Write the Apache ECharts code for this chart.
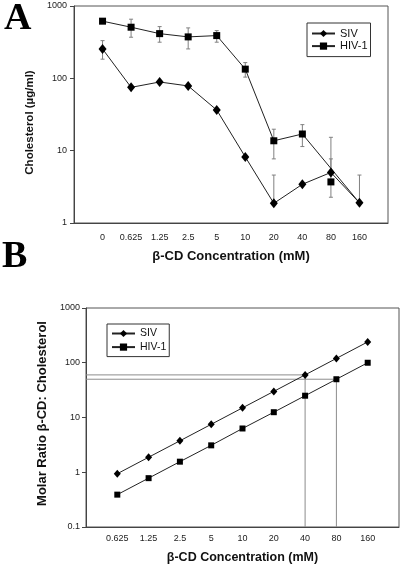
<!DOCTYPE html>
<html>
<head>
<meta charset="utf-8">
<script src="https://cdn.jsdelivr.net/npm/echarts@6/dist/echarts.min.js"></script>
<style>
  html, body { margin: 0; padding: 0; background: #fff; }
  #chart { width: 402px; height: 565px; }
</style>
</head>
<body>
<div id="chart"></div>
<script>
// ---------- Panel A data ----------
const catsA = ['0', '0.625', '1.25', '2.5', '5', '10', '20', '40', '80', '160'];
const sivA = [255, 75, 89, 78.5, 36.5, 8.2, 1.87, 3.43, 5.0, 1.9];
const hivA = [617, 509, 415, 374, 390, 134, 13.7, 17, 3.7, 1.9];
const hivAUnlinked = [8];        // HIV-1 point drawn without a connecting line
const hivAHiddenMarker = [9];     // HIV-1 point hidden behind the SIV marker
const sivAErrLow  = [184, null, null, null, null, null, 1.87, null, 5.0, 1.9];
const sivAErrHigh = [332, null, null, null, null, null, 4.6, null, 15.3, 4.6];
const hivAErrLow  = [null, 370, 316, 255, 316, 104, 7.7, 11.4, 2.27, null];
const hivAErrHigh = [null, 657, 519, 498, 457, 165, 19.8, 22.9, 7.7, null];

// ---------- Panel B data ----------
const catsB = ['0.625', '1.25', '2.5', '5', '10', '20', '40', '80', '160'];
const sivB = [0.94, 1.88, 3.75, 7.5, 15, 30, 60, 120, 240];
const hivB = [0.39, 0.78, 1.56, 3.1, 6.3, 12.5, 25, 50, 100];
const refLinesB = [{ values: sivB, idx: 6 }, { values: hivB, idx: 7 }];

const yTicksA = [1, 10, 100, 1000];
const yTicksB = [0.1, 1, 10, 100, 1000];

const FONT = '"Liberation Sans", Arial, sans-serif';
const chart = echarts.init(document.getElementById('chart'), null, { renderer: 'canvas' });

function errData(low, high) {
  const out = [];
  low.forEach((l, i) => { if (l != null && high[i] != null) out.push([i, l, high[i]]); });
  return out;
}
function errSeries(name, xi, yi, data) {
  return {
    name: name, type: 'custom', xAxisIndex: xi, yAxisIndex: yi, z: 1, silent: true,
    data: data,
    renderItem: function (params, api) {
      const x = api.value(0);
      const p1 = api.coord([x, api.value(1)]);
      const p2 = api.coord([x, api.value(2)]);
      const w = 2;
      const st = { stroke: '#808080', lineWidth: 1 };
      return { type: 'group', children: [
        { type: 'line', shape: { x1: p1[0], y1: p1[1], x2: p2[0], y2: p2[1] }, style: st },
        { type: 'line', shape: { x1: p1[0] - w, y1: p1[1], x2: p1[0] + w, y2: p1[1] }, style: st },
        { type: 'line', shape: { x1: p2[0] - w, y1: p2[1], x2: p2[0] + w, y2: p2[1] }, style: st }
      ]};
    }
  };
}

function xAxis(gi, cats, margin, name, nameGap, nameSize) {
  return {
    type: 'value', gridIndex: gi, min: -1, max: cats.length, interval: 1,
    splitLine: { show: false }, axisTick: { show: false },
    axisLine: { onZero: false, lineStyle: { color: '#444', width: 1 } },
    axisLabel: { margin: margin, fontFamily: FONT, fontSize: 9, color: '#222',
      formatter: v => (cats[v] !== undefined ? cats[v] : '') },
    name: name, nameLocation: 'middle', nameGap: nameGap,
    nameTextStyle: { fontFamily: FONT, fontSize: nameSize, fontWeight: 'bold', color: '#111' }
  };
}
function yAxis(gi, ticks, margin, name, nameGap, nameSize, pad) {
  return {
    type: 'log', logBase: 10, gridIndex: gi, min: ticks[0], max: ticks[ticks.length - 1],
    splitLine: { show: false },
    axisLine: { show: true, onZero: false, lineStyle: { color: '#444', width: 1 } },
    axisTick: { show: true, length: 4, lineStyle: { color: '#444' } },
    minorTick: { show: false },
    axisLabel: { margin: margin, fontFamily: FONT, fontSize: 9, color: '#222',
      formatter: v => String(v) },
    name: name, nameLocation: 'middle', nameGap: nameGap, nameRotate: 90,
    nameTextStyle: { fontFamily: FONT, fontSize: nameSize, fontWeight: 'bold', color: '#111', padding: pad }
  };
}

const hivALine = hivA.map((v, i) => hivAUnlinked.includes(i) ? null : {
  value: [i, v], symbol: hivAHiddenMarker.includes(i) ? 'none' : 'rect'
});
const hivAIsolated = hivAUnlinked.map(i => [i, hivA[i]]);

const refLineSeries = refLinesB.map((r, k) => ({
  name: 'ref' + k, type: 'line', xAxisIndex: 1, yAxisIndex: 1, z: 0, silent: true,
  symbol: 'none', lineStyle: { color: '#8c8c8c', width: 1 },
  data: [[-1, r.values[r.idx]], [r.idx, r.values[r.idx]], [r.idx, yTicksB[0]]]
}));

const option = {
  animation: false,
  backgroundColor: '#fff',
  grid: [
    { left: 74, top: 6, width: 314, height: 217, show: true, borderColor: '#555', borderWidth: 1, backgroundColor: 'transparent' },
    { left: 86, top: 308, width: 313, height: 219, show: true, borderColor: '#555', borderWidth: 1, backgroundColor: 'transparent' }
  ],
  xAxis: [
    xAxis(0, catsA, 10, 'β-CD Concentration (mM)', 27, 13),
    xAxis(1, catsB, 7, 'β-CD Concentration (mM)', 24, 12.5)
  ],
  yAxis: [
    yAxis(0, yTicksA, 7, 'Cholesterol (µg/ml)', 31, 11.5, [0, 16, 0, 0]),
    yAxis(1, yTicksB, 6, 'Molar Ratio β-CD: Cholesterol', 32, 13, [0, 0, 0, 8])
  ],
  legend: [
    { data: ['SIV', 'HIV-1'], orient: 'vertical', left: 307, top: 23,
      padding: [5, 3, 5, 4], itemWidth: 23, itemHeight: 9, itemGap: 1.6,
      borderColor: '#333', borderWidth: 1, backgroundColor: '#fff',
      textStyle: { fontFamily: FONT, fontSize: 11, color: '#111', lineHeight: 9 },
      selectedMode: false },
    { data: ['SIV ', 'HIV-1 '], orient: 'vertical', left: 107, top: 324,
      padding: [4, 3, 4, 4], itemWidth: 23, itemHeight: 9, itemGap: 2.6,
      borderColor: '#333', borderWidth: 1, backgroundColor: '#fff',
      formatter: n => n.trim(),
      textStyle: { fontFamily: FONT, fontSize: 10.5, color: '#111', lineHeight: 9 },
      selectedMode: false }
  ],
  graphic: [
    { type: 'text', left: 4, top: 0, style: { text: 'A', font: 'bold 38px "Liberation Serif", "Times New Roman", serif', fill: '#000' } },
    { type: 'text', left: 2, top: 238, style: { text: 'B', font: 'bold 38px "Liberation Serif", "Times New Roman", serif', fill: '#000' } }
  ],
  series: [
    { name: 'SIV', type: 'line', xAxisIndex: 0, yAxisIndex: 0, z: 3,
      symbol: 'diamond', symbolSize: [8, 10], itemStyle: { color: '#000' },
      lineStyle: { color: '#222', width: 1 },
      data: sivA.map((v, i) => [i, v]) },
    { name: 'HIV-1', type: 'line', xAxisIndex: 0, yAxisIndex: 0, z: 3, connectNulls: true,
      symbol: 'rect', symbolSize: 7, itemStyle: { color: '#000' },
      lineStyle: { color: '#222', width: 1 },
      data: hivALine },
    { name: 'HIV-1 isolated', type: 'scatter', xAxisIndex: 0, yAxisIndex: 0, z: 3,
      symbol: 'rect', symbolSize: 7, itemStyle: { color: '#000', opacity: 1 },
      data: hivAIsolated },
    errSeries('SIV err', 0, 0, errData(sivAErrLow, sivAErrHigh)),
    errSeries('HIV-1 err', 0, 0, errData(hivAErrLow, hivAErrHigh)),
    { name: 'SIV ', type: 'line', xAxisIndex: 1, yAxisIndex: 1, z: 3,
      symbol: 'diamond', symbolSize: [7, 8], itemStyle: { color: '#000' },
      lineStyle: { color: '#222', width: 1 },
      data: sivB.map((v, i) => [i, v]) },
    { name: 'HIV-1 ', type: 'line', xAxisIndex: 1, yAxisIndex: 1, z: 3,
      symbol: 'rect', symbolSize: 6, itemStyle: { color: '#000' },
      lineStyle: { color: '#222', width: 1 },
      data: hivB.map((v, i) => [i, v]) }
  ].concat(refLineSeries)
};
chart.setOption(option);
</script>
</body>
</html>
